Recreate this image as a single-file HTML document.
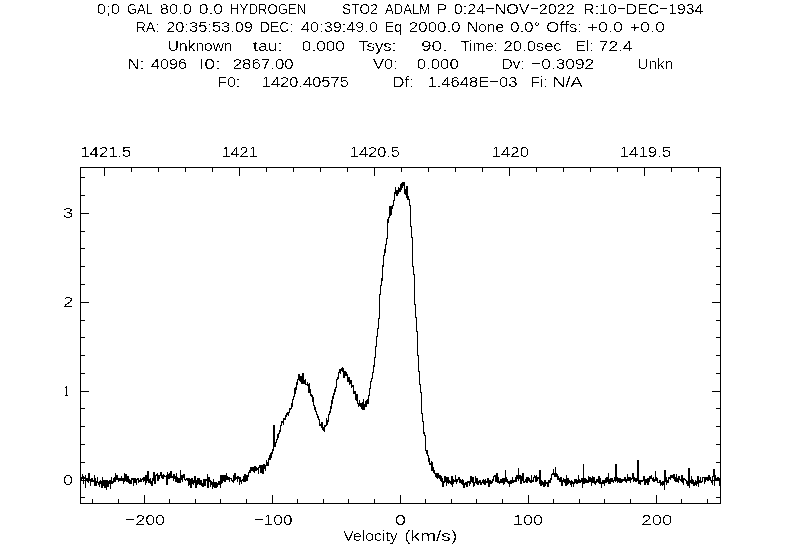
<!DOCTYPE html><html><head><meta charset="utf-8"><title>CLASS spectrum</title><style>html,body{margin:0;padding:0;background:#fff;}svg{display:block;}text{font-family:"Liberation Sans", "DejaVu Sans", sans-serif;font-size:15.5px;fill:#000;white-space:pre;}</style></head><body>
<svg width="800" height="560" viewBox="0 0 800 560">
<rect width="800" height="560" fill="#fff"/>
<g fill="none" stroke="#000" stroke-width="1" shape-rendering="crispEdges">
<rect x="80.5" y="167.5" width="640" height="336"/>
<path d="M104.5 168V176M131.5 168V172M158.5 168V172M185.5 168V172M212.5 168V172M239.5 168V176M266.5 168V172M293.5 168V172M320.5 168V172M347.5 168V172M374.5 168V176M401.5 168V172M428.5 168V172M455.5 168V172M482.5 168V172M509.5 168V176M536.5 168V172M563.5 168V172M590.5 168V172M617.5 168V172M644.5 168V176M671.5 168V172M698.5 168V172M92.5 503V499M118.5 503V499M144.5 503V495M169.5 503V499M195.5 503V499M220.5 503V499M246.5 503V499M272.5 503V495M297.5 503V499M323.5 503V499M348.5 503V499M374.5 503V499M400.5 503V495M425.5 503V499M451.5 503V499M476.5 503V499M502.5 503V499M528.5 503V495M553.5 503V499M579.5 503V499M604.5 503V499M630.5 503V499M656.5 503V495M681.5 503V499M707.5 503V499M81 497.5H85M720 497.5H716M81 480.5H89M720 480.5H712M81 462.5H85M720 462.5H716M81 444.5H85M720 444.5H716M81 426.5H85M720 426.5H716M81 408.5H85M720 408.5H716M81 391.5H89M720 391.5H712M81 373.5H85M720 373.5H716M81 355.5H85M720 355.5H716M81 337.5H85M720 337.5H716M81 320.5H85M720 320.5H716M81 302.5H89M720 302.5H712M81 284.5H85M720 284.5H716M81 266.5H85M720 266.5H716M81 248.5H85M720 248.5H716M81 231.5H85M720 231.5H716M81 213.5H89M720 213.5H712M81 195.5H85M720 195.5H716M81 177.5H85M720 177.5H716"/>
</g>
<path fill="#000" shape-rendering="crispEdges" d="M80 473h1v11h-1zM81 477h1v3h-1zM82 474h1v5h-1zM83 476h1v8h-1zM84 477h1v2h-1zM85 475h1v13h-1zM86 478h1v2h-1zM87 478h1v4h-1zM88 473h1v10h-1zM89 473h1v8h-1zM90 479h1v7h-1zM91 478h1v4h-1zM92 478h1v4h-1zM93 480h1v2h-1zM94 475h1v11h-1zM95 478h1v8h-1zM96 481h1v5h-1zM97 477h1v6h-1zM98 482h1v3h-1zM99 481h1v6h-1zM100 480h1v4h-1zM101 481h1v7h-1zM102 477h1v11h-1zM103 480h1v6h-1zM104 480h1v8h-1zM105 480h1v8h-1zM106 480h1v10h-1zM107 480h1v7h-1zM108 481h1v6h-1zM109 480h1v4h-1zM110 480h1v9h-1zM111 477h1v7h-1zM112 481h1v3h-1zM113 478h1v5h-1zM114 477h1v5h-1zM115 473h1v9h-1zM116 475h1v5h-1zM117 475h1v5h-1zM118 478h1v4h-1zM119 478h1v3h-1zM120 478h1v3h-1zM121 476h1v5h-1zM122 478h1v3h-1zM123 478h1v6h-1zM124 473h1v9h-1zM125 474h1v7h-1zM126 474h1v8h-1zM127 476h1v6h-1zM128 476h1v7h-1zM129 479h1v5h-1zM130 480h1v4h-1zM131 478h1v6h-1zM132 478h1v2h-1zM133 478h1v8h-1zM134 478h1v5h-1zM135 478h1v5h-1zM136 479h1v6h-1zM137 478h1v2h-1zM138 478h1v5h-1zM139 480h1v2h-1zM140 478h1v4h-1zM141 479h1v3h-1zM142 478h1v2h-1zM143 477h1v5h-1zM144 477h1v4h-1zM145 475h1v10h-1zM146 475h1v8h-1zM147 471h1v10h-1zM148 471h1v12h-1zM149 479h1v4h-1zM150 478h1v6h-1zM151 481h1v5h-1zM152 478h1v8h-1zM153 472h1v9h-1zM154 472h1v12h-1zM155 475h1v9h-1zM156 474h1v2h-1zM157 473h1v8h-1zM158 475h1v6h-1zM159 475h1v4h-1zM160 472h1v4h-1zM161 472h1v6h-1zM162 475h1v4h-1zM163 474h1v5h-1zM164 475h1v2h-1zM165 476h1v1h-1zM166 475h1v10h-1zM167 472h1v13h-1zM168 474h1v5h-1zM169 473h1v6h-1zM170 471h1v7h-1zM171 471h1v7h-1zM172 476h1v2h-1zM173 474h1v7h-1zM174 474h1v5h-1zM175 476h1v6h-1zM176 473h1v9h-1zM177 477h1v6h-1zM178 478h1v5h-1zM179 478h1v5h-1zM180 470h1v13h-1zM181 475h1v5h-1zM182 475h1v7h-1zM183 474h1v4h-1zM184 474h1v6h-1zM185 479h1v2h-1zM186 478h1v2h-1zM187 478h1v3h-1zM188 478h1v8h-1zM189 478h1v7h-1zM190 479h1v9h-1zM191 478h1v10h-1zM192 478h1v6h-1zM193 480h1v5h-1zM194 476h1v7h-1zM195 476h1v12h-1zM196 480h1v8h-1zM197 478h1v7h-1zM198 478h1v6h-1zM199 478h1v7h-1zM200 480h1v5h-1zM201 480h1v6h-1zM202 483h1v4h-1zM203 479h1v8h-1zM204 479h1v7h-1zM205 479h1v7h-1zM206 479h1v2h-1zM207 474h1v14h-1zM208 477h1v11h-1zM209 477h1v5h-1zM210 480h1v7h-1zM211 481h1v4h-1zM212 482h1v7h-1zM213 479h1v8h-1zM214 482h1v6h-1zM215 482h1v6h-1zM216 482h1v6h-1zM217 483h1v4h-1zM218 481h1v4h-1zM219 481h1v4h-1zM220 475h1v13h-1zM221 475h1v9h-1zM222 475h1v8h-1zM223 475h1v6h-1zM224 475h1v7h-1zM225 475h1v7h-1zM226 473h1v7h-1zM227 476h1v4h-1zM228 477h1v3h-1zM229 477h1v5h-1zM230 478h1v1h-1zM231 478h1v3h-1zM232 480h1v2h-1zM233 475h1v8h-1zM234 473h1v8h-1zM235 473h1v7h-1zM236 477h1v2h-1zM237 476h1v6h-1zM238 476h1v3h-1zM239 477h1v8h-1zM240 477h1v5h-1zM241 480h1v4h-1zM242 479h1v2h-1zM243 476h1v6h-1zM244 474h1v8h-1zM245 474h1v8h-1zM246 475h1v6h-1zM247 475h1v6h-1zM248 472h1v5h-1zM249 470h1v3h-1zM250 467h1v6h-1zM251 467h1v4h-1zM252 467h1v4h-1zM253 467h1v5h-1zM254 466h1v7h-1zM255 466h1v5h-1zM256 467h1v4h-1zM257 468h1v2h-1zM258 467h1v7h-1zM259 465h1v3h-1zM260 465h1v8h-1zM261 465h1v8h-1zM262 465h1v9h-1zM263 464h1v10h-1zM264 464h1v5h-1zM265 465h1v6h-1zM266 460h1v6h-1zM267 462h1v4h-1zM268 458h1v8h-1zM269 455h1v5h-1zM270 453h1v7h-1zM271 452h1v6h-1zM272 449h1v5h-1zM273 425h1v26h-1zM274 425h1v22h-1zM275 442h1v5h-1zM276 439h1v4h-1zM277 434h1v6h-1zM278 433h1v5h-1zM279 430h1v4h-1zM280 425h1v7h-1zM281 421h1v5h-1zM282 421h1v2h-1zM283 418h1v7h-1zM284 418h1v2h-1zM285 415h1v5h-1zM286 413h1v4h-1zM287 412h1v3h-1zM288 412h1v4h-1zM289 408h1v5h-1zM290 408h1v2h-1zM291 403h1v6h-1zM292 399h1v8h-1zM293 396h1v4h-1zM294 388h1v9h-1zM295 387h1v7h-1zM296 382h1v8h-1zM297 379h1v6h-1zM298 374h1v6h-1zM299 374h1v7h-1zM300 376h1v6h-1zM301 376h1v8h-1zM302 373h1v11h-1zM303 373h1v11h-1zM304 380h1v4h-1zM305 379h1v6h-1zM306 384h1v1h-1zM307 382h1v4h-1zM308 384h1v9h-1zM309 383h1v10h-1zM310 389h1v7h-1zM311 394h1v3h-1zM312 395h1v7h-1zM313 397h1v9h-1zM314 405h1v5h-1zM315 407h1v5h-1zM316 411h1v4h-1zM317 414h1v4h-1zM318 416h1v4h-1zM319 419h1v7h-1zM320 424h1v2h-1zM321 422h1v6h-1zM322 422h1v8h-1zM323 427h1v4h-1zM324 425h1v7h-1zM325 425h1v2h-1zM326 418h1v8h-1zM327 420h1v5h-1zM328 414h1v8h-1zM329 411h1v4h-1zM330 406h1v7h-1zM331 400h1v9h-1zM332 396h1v8h-1zM333 393h1v6h-1zM334 389h1v6h-1zM335 387h1v5h-1zM336 379h1v9h-1zM337 377h1v3h-1zM338 372h1v7h-1zM339 369h1v4h-1zM340 369h1v5h-1zM341 368h1v3h-1zM342 367h1v5h-1zM343 368h1v10h-1zM344 371h1v7h-1zM345 371h1v5h-1zM346 372h1v4h-1zM347 374h1v8h-1zM348 377h1v5h-1zM349 377h1v8h-1zM350 380h1v4h-1zM351 380h1v8h-1zM352 385h1v2h-1zM353 385h1v9h-1zM354 391h1v3h-1zM355 391h1v9h-1zM356 394h1v7h-1zM357 394h1v10h-1zM358 403h1v4h-1zM359 400h1v6h-1zM360 403h1v4h-1zM361 403h1v6h-1zM362 402h1v8h-1zM363 399h1v11h-1zM364 404h1v6h-1zM365 401h1v6h-1zM366 400h1v7h-1zM367 399h1v5h-1zM368 395h1v9h-1zM369 388h1v8h-1zM370 381h1v8h-1zM371 378h1v4h-1zM372 372h1v7h-1zM373 365h1v8h-1zM374 357h1v10h-1zM375 346h1v12h-1zM376 336h1v11h-1zM377 328h1v9h-1zM378 318h1v11h-1zM379 294h1v25h-1zM380 285h1v10h-1zM381 278h1v8h-1zM382 265h1v16h-1zM383 255h1v12h-1zM384 249h1v7h-1zM385 244h1v9h-1zM386 238h1v7h-1zM387 219h1v20h-1zM388 217h1v6h-1zM389 206h1v12h-1zM390 206h1v10h-1zM391 206h1v9h-1zM392 205h1v4h-1zM393 200h1v6h-1zM394 192h1v9h-1zM395 187h1v7h-1zM396 190h1v6h-1zM397 190h1v6h-1zM398 187h1v7h-1zM399 188h1v4h-1zM400 184h1v8h-1zM401 183h1v7h-1zM402 182h1v6h-1zM403 182h1v4h-1zM404 182h1v12h-1zM405 189h1v6h-1zM406 186h1v12h-1zM407 186h1v14h-1zM408 196h1v4h-1zM409 199h1v7h-1zM410 205h1v22h-1zM411 226h1v12h-1zM412 237h1v30h-1zM413 266h1v9h-1zM414 274h1v31h-1zM415 304h1v14h-1zM416 317h1v15h-1zM417 331h1v25h-1zM418 355h1v17h-1zM419 371h1v14h-1zM420 384h1v9h-1zM421 392h1v22h-1zM422 413h1v9h-1zM423 421h1v13h-1zM424 432h1v4h-1zM425 435h1v16h-1zM426 450h1v4h-1zM427 450h1v6h-1zM428 455h1v7h-1zM429 458h1v7h-1zM430 463h1v2h-1zM431 461h1v10h-1zM432 462h1v9h-1zM433 467h1v6h-1zM434 470h1v4h-1zM435 473h1v4h-1zM436 473h1v5h-1zM437 473h1v6h-1zM438 473h1v5h-1zM439 475h1v4h-1zM440 475h1v6h-1zM441 476h1v6h-1zM442 478h1v9h-1zM443 481h1v6h-1zM444 476h1v7h-1zM445 476h1v6h-1zM446 477h1v9h-1zM447 477h1v6h-1zM448 477h1v7h-1zM449 480h1v3h-1zM450 481h1v3h-1zM451 476h1v9h-1zM452 476h1v11h-1zM453 479h1v5h-1zM454 480h1v2h-1zM455 475h1v7h-1zM456 479h1v5h-1zM457 479h1v3h-1zM458 477h1v3h-1zM459 477h1v6h-1zM460 479h1v4h-1zM461 480h1v4h-1zM462 479h1v6h-1zM463 480h1v8h-1zM464 483h1v5h-1zM465 482h1v3h-1zM466 482h1v5h-1zM467 481h1v6h-1zM468 481h1v2h-1zM469 481h1v5h-1zM470 476h1v8h-1zM471 476h1v6h-1zM472 477h1v6h-1zM473 477h1v10h-1zM474 482h1v4h-1zM475 476h1v7h-1zM476 478h1v6h-1zM477 478h1v7h-1zM478 481h1v4h-1zM479 480h1v3h-1zM480 480h1v5h-1zM481 482h1v3h-1zM482 480h1v3h-1zM483 479h1v5h-1zM484 480h1v5h-1zM485 479h1v6h-1zM486 481h1v2h-1zM487 478h1v5h-1zM488 478h1v9h-1zM489 480h1v7h-1zM490 480h1v4h-1zM491 481h1v3h-1zM492 479h1v4h-1zM493 476h1v5h-1zM494 475h1v2h-1zM495 475h1v7h-1zM496 473h1v9h-1zM497 473h1v10h-1zM498 477h1v6h-1zM499 481h1v3h-1zM500 479h1v4h-1zM501 479h1v4h-1zM502 478h1v5h-1zM503 478h1v7h-1zM504 478h1v6h-1zM505 470h1v12h-1zM506 477h1v5h-1zM507 479h1v4h-1zM508 481h1v3h-1zM509 481h1v6h-1zM510 480h1v4h-1zM511 480h1v4h-1zM512 477h1v6h-1zM513 480h1v3h-1zM514 480h1v2h-1zM515 477h1v5h-1zM516 475h1v7h-1zM517 475h1v4h-1zM518 468h1v13h-1zM519 475h1v4h-1zM520 475h1v9h-1zM521 476h1v8h-1zM522 473h1v8h-1zM523 473h1v10h-1zM524 481h1v2h-1zM525 479h1v3h-1zM526 477h1v6h-1zM527 477h1v6h-1zM528 477h1v4h-1zM529 478h1v4h-1zM530 480h1v3h-1zM531 475h1v8h-1zM532 480h1v2h-1zM533 477h1v5h-1zM534 475h1v3h-1zM535 476h1v6h-1zM536 475h1v7h-1zM537 477h1v4h-1zM538 477h1v2h-1zM539 470h1v14h-1zM540 470h1v16h-1zM541 480h1v6h-1zM542 481h1v4h-1zM543 482h1v5h-1zM544 480h1v7h-1zM545 480h1v6h-1zM546 482h1v2h-1zM547 482h1v5h-1zM548 480h1v7h-1zM549 480h1v3h-1zM550 478h1v5h-1zM551 474h1v6h-1zM552 473h1v2h-1zM553 469h1v6h-1zM554 473h1v4h-1zM555 467h1v10h-1zM556 473h1v4h-1zM557 474h1v6h-1zM558 476h1v4h-1zM559 478h1v4h-1zM560 477h1v5h-1zM561 477h1v9h-1zM562 480h1v6h-1zM563 478h1v4h-1zM564 479h1v4h-1zM565 479h1v7h-1zM566 475h1v11h-1zM567 478h1v7h-1zM568 478h1v6h-1zM569 480h1v3h-1zM570 481h1v4h-1zM571 480h1v7h-1zM572 481h1v3h-1zM573 482h1v5h-1zM574 479h1v5h-1zM575 479h1v4h-1zM576 479h1v5h-1zM577 480h1v4h-1zM578 475h1v8h-1zM579 479h1v4h-1zM580 480h1v3h-1zM581 478h1v4h-1zM582 478h1v10h-1zM583 464h1v20h-1zM584 478h1v6h-1zM585 478h1v5h-1zM586 479h1v4h-1zM587 480h1v3h-1zM588 476h1v7h-1zM589 477h1v5h-1zM590 477h1v5h-1zM591 478h1v8h-1zM592 476h1v7h-1zM593 477h1v6h-1zM594 477h1v7h-1zM595 481h1v4h-1zM596 479h1v4h-1zM597 479h1v3h-1zM598 476h1v7h-1zM599 476h1v8h-1zM600 478h1v6h-1zM601 482h1v6h-1zM602 480h1v4h-1zM603 480h1v4h-1zM604 480h1v6h-1zM605 478h1v5h-1zM606 477h1v6h-1zM607 477h1v5h-1zM608 473h1v11h-1zM609 479h1v5h-1zM610 478h1v6h-1zM611 478h1v4h-1zM612 478h1v4h-1zM613 480h1v3h-1zM614 477h1v4h-1zM615 464h1v18h-1zM616 464h1v17h-1zM617 477h1v6h-1zM618 478h1v4h-1zM619 478h1v5h-1zM620 478h1v5h-1zM621 479h1v4h-1zM622 479h1v3h-1zM623 479h1v2h-1zM624 477h1v4h-1zM625 477h1v5h-1zM626 479h1v4h-1zM627 474h1v7h-1zM628 477h1v4h-1zM629 477h1v4h-1zM630 477h1v6h-1zM631 478h1v2h-1zM632 473h1v6h-1zM633 473h1v9h-1zM634 477h1v4h-1zM635 478h1v4h-1zM636 478h1v4h-1zM637 460h1v21h-1zM638 460h1v24h-1zM639 480h1v4h-1zM640 480h1v5h-1zM641 480h1v2h-1zM642 480h1v2h-1zM643 476h1v5h-1zM644 476h1v9h-1zM645 479h1v6h-1zM646 479h1v4h-1zM647 478h1v7h-1zM648 478h1v7h-1zM649 476h1v6h-1zM650 476h1v3h-1zM651 475h1v4h-1zM652 478h1v3h-1zM653 477h1v5h-1zM654 479h1v3h-1zM655 471h1v10h-1zM656 477h1v4h-1zM657 478h1v5h-1zM658 482h1v1h-1zM659 480h1v3h-1zM660 480h1v6h-1zM661 482h1v3h-1zM662 481h1v5h-1zM663 481h1v4h-1zM664 470h1v20h-1zM665 470h1v12h-1zM666 477h1v8h-1zM667 480h1v3h-1zM668 477h1v6h-1zM669 477h1v2h-1zM670 475h1v5h-1zM671 475h1v3h-1zM672 475h1v3h-1zM673 474h1v5h-1zM674 474h1v7h-1zM675 477h1v5h-1zM676 474h1v8h-1zM677 478h1v4h-1zM678 476h1v7h-1zM679 476h1v4h-1zM680 479h1v2h-1zM681 475h1v7h-1zM682 475h1v8h-1zM683 478h1v7h-1zM684 478h1v2h-1zM685 479h1v2h-1zM686 480h1v4h-1zM687 481h1v5h-1zM688 468h1v18h-1zM689 468h1v20h-1zM690 480h1v3h-1zM691 476h1v8h-1zM692 479h1v5h-1zM693 480h1v6h-1zM694 482h1v4h-1zM695 480h1v5h-1zM696 481h1v5h-1zM697 476h1v8h-1zM698 476h1v11h-1zM699 480h1v3h-1zM700 477h1v6h-1zM701 481h1v2h-1zM702 477h1v5h-1zM703 477h1v1h-1zM704 477h1v7h-1zM705 477h1v5h-1zM706 477h1v3h-1zM707 477h1v4h-1zM708 475h1v6h-1zM709 475h1v5h-1zM710 477h1v4h-1zM711 480h1v3h-1zM712 476h1v9h-1zM713 469h1v8h-1zM714 469h1v17h-1zM715 475h1v5h-1zM716 478h1v3h-1zM717 477h1v4h-1zM718 477h1v3h-1zM719 478h1v8h-1z"/>
<defs><filter id="th" x="-2%" y="-5%" width="104%" height="110%" color-interpolation-filters="sRGB"><feComponentTransfer><feFuncA type="discrete" tableValues="0 0 0 1 1"/></feComponentTransfer></filter></defs>
<g filter="url(#th)">
<text id="t0" x="96.82" y="14.00" textLength="23.16" lengthAdjust="spacingAndGlyphs">0;0</text>
<text id="t1" x="126.95" y="14.00" textLength="26.14" lengthAdjust="spacingAndGlyphs">GAL</text>
<text id="t2" x="159.84" y="14.00" textLength="32.11" lengthAdjust="spacingAndGlyphs">80.0</text>
<text id="t3" x="198.82" y="14.00" textLength="24.15" lengthAdjust="spacingAndGlyphs">0.0</text>
<text id="t4" x="230.11" y="14.00" textLength="76.04" lengthAdjust="spacingAndGlyphs">HYDROGEN</text>
<text id="t5" x="341.97" y="14.00" textLength="36.09" lengthAdjust="spacingAndGlyphs">STO2</text>
<text id="t6" x="385.12" y="14.00" textLength="45.00" lengthAdjust="spacingAndGlyphs">ADALM</text>
<text id="t7" x="436.58" y="14.00" textLength="10.50" lengthAdjust="spacingAndGlyphs">P</text>
<text id="t8" x="453.87" y="14.00" textLength="120.72" lengthAdjust="spacingAndGlyphs">0:24−NOV−2022</text>
<text id="t9" x="583.37" y="14.00" textLength="120.03" lengthAdjust="spacingAndGlyphs">R:10−DEC−1934</text>
<text id="t10" x="135.95" y="32.00" textLength="23.16" lengthAdjust="spacingAndGlyphs">RA:</text>
<text id="t11" x="166.19" y="32.00" textLength="86.82" lengthAdjust="spacingAndGlyphs">20:35:53.09</text>
<text id="t12" x="259.97" y="32.00" textLength="33.10" lengthAdjust="spacingAndGlyphs">DEC:</text>
<text id="t13" x="301.00" y="32.00" textLength="77.00" lengthAdjust="spacingAndGlyphs">40:39:49.0</text>
<text id="t14" x="384.83" y="32.00" textLength="17.36" lengthAdjust="spacingAndGlyphs">Eq</text>
<text id="t15" x="408.87" y="32.00" textLength="51.83" lengthAdjust="spacingAndGlyphs">2000.0</text>
<text id="t16" x="466.97" y="32.00" textLength="37.09" lengthAdjust="spacingAndGlyphs">None</text>
<text id="t17" x="510.21" y="32.00" textLength="30.12" lengthAdjust="spacingAndGlyphs">0.0°</text>
<text id="t18" x="545.93" y="32.00" textLength="36.27" lengthAdjust="spacingAndGlyphs">Offs:</text>
<text id="t19" x="587.61" y="32.00" textLength="35.27" lengthAdjust="spacingAndGlyphs">+0.0</text>
<text id="t20" x="629.72" y="32.00" textLength="35.10" lengthAdjust="spacingAndGlyphs">+0.0</text>
<text id="t21" x="167.77" y="51.00" textLength="64.74" lengthAdjust="spacingAndGlyphs">Unknown</text>
<text id="t22" x="253.12" y="51.00" textLength="29.28" lengthAdjust="spacingAndGlyphs">tau:</text>
<text id="t23" x="301.85" y="51.00" textLength="43.08" lengthAdjust="spacingAndGlyphs">0.000</text>
<text id="t24" x="358.27" y="51.00" textLength="38.09" lengthAdjust="spacingAndGlyphs">Tsys:</text>
<text id="t25" x="421.02" y="51.00" textLength="26.51" lengthAdjust="spacingAndGlyphs">90.</text>
<text id="t26" x="460.62" y="51.00" textLength="37.09" lengthAdjust="spacingAndGlyphs">Time:</text>
<text id="t27" x="503.61" y="51.00" textLength="58.06" lengthAdjust="spacingAndGlyphs">20.0sec</text>
<text id="t28" x="575.77" y="51.00" textLength="17.56" lengthAdjust="spacingAndGlyphs">El:</text>
<text id="t29" x="598.87" y="51.00" textLength="33.59" lengthAdjust="spacingAndGlyphs">72.4</text>
<text id="t30" x="127.78" y="69.00" textLength="16.46" lengthAdjust="spacingAndGlyphs">N:</text>
<text id="t31" x="150.88" y="69.00" textLength="36.20" lengthAdjust="spacingAndGlyphs">4096</text>
<text id="t32" x="198.71" y="69.00" textLength="21.79" lengthAdjust="spacingAndGlyphs">I0:</text>
<text id="t33" x="232.73" y="69.00" textLength="61.05" lengthAdjust="spacingAndGlyphs">2867.00</text>
<text id="t34" x="372.95" y="69.00" textLength="24.73" lengthAdjust="spacingAndGlyphs">V0:</text>
<text id="t35" x="416.86" y="69.00" textLength="41.84" lengthAdjust="spacingAndGlyphs">0.000</text>
<text id="t36" x="501.82" y="69.00" textLength="22.74" lengthAdjust="spacingAndGlyphs">Dv:</text>
<text id="t37" x="531.11" y="69.00" textLength="63.16" lengthAdjust="spacingAndGlyphs">−0.3092</text>
<text id="t38" x="637.34" y="69.00" textLength="36.03" lengthAdjust="spacingAndGlyphs">Unkn</text>
<text id="t39" x="217.82" y="87.00" textLength="22.23" lengthAdjust="spacingAndGlyphs">F0:</text>
<text id="t40" x="261.80" y="87.00" textLength="87.05" lengthAdjust="spacingAndGlyphs">1420.40575</text>
<text id="t41" x="392.78" y="87.00" textLength="20.77" lengthAdjust="spacingAndGlyphs">Df:</text>
<text id="t42" x="427.47" y="87.00" textLength="89.97" lengthAdjust="spacingAndGlyphs">1.4648E−03</text>
<text id="t43" x="530.73" y="87.00" textLength="16.86" lengthAdjust="spacingAndGlyphs">Fi:</text>
<text id="t44" x="552.17" y="87.00" textLength="30.62" lengthAdjust="spacingAndGlyphs">N/A</text>
<text id="t45" x="80.35" y="157.00" textLength="51.06" lengthAdjust="spacingAndGlyphs">1421.5</text>
<text id="t46" x="221.58" y="157.00" textLength="36.09" lengthAdjust="spacingAndGlyphs">1421</text>
<text id="t47" x="349.74" y="157.00" textLength="50.29" lengthAdjust="spacingAndGlyphs">1420.5</text>
<text id="t48" x="491.84" y="157.00" textLength="37.09" lengthAdjust="spacingAndGlyphs">1420</text>
<text id="t49" x="619.83" y="157.00" textLength="51.13" lengthAdjust="spacingAndGlyphs">1419.5</text>
<text id="t50" x="62.83" y="218.00" textLength="10.50" lengthAdjust="spacingAndGlyphs">3</text>
<text id="t51" x="62.96" y="307.00" textLength="10.50" lengthAdjust="spacingAndGlyphs">2</text>
<text id="t52" x="64.00" y="396.00" textLength="5.00" lengthAdjust="spacingAndGlyphs">1</text>
<text id="t53" x="62.83" y="485.00" textLength="10.50" lengthAdjust="spacingAndGlyphs">0</text>
<text id="t54" x="124.69" y="525.00" textLength="40.39" lengthAdjust="spacingAndGlyphs">−200</text>
<text id="t55" x="253.46" y="525.00" textLength="39.09" lengthAdjust="spacingAndGlyphs">−100</text>
<text id="t56" x="394.86" y="525.00" textLength="11.43" lengthAdjust="spacingAndGlyphs">0</text>
<text id="t57" x="512.96" y="525.00" textLength="30.12" lengthAdjust="spacingAndGlyphs">100</text>
<text id="t58" x="641.34" y="525.00" textLength="31.11" lengthAdjust="spacingAndGlyphs">200</text>
<text id="t59" x="343.37" y="541.00" textLength="54.39" lengthAdjust="spacingAndGlyphs">Velocity</text>
<text id="t60" x="404.24" y="541.00" textLength="53.02" lengthAdjust="spacingAndGlyphs">(km/s)</text>
</g></svg></body></html>
